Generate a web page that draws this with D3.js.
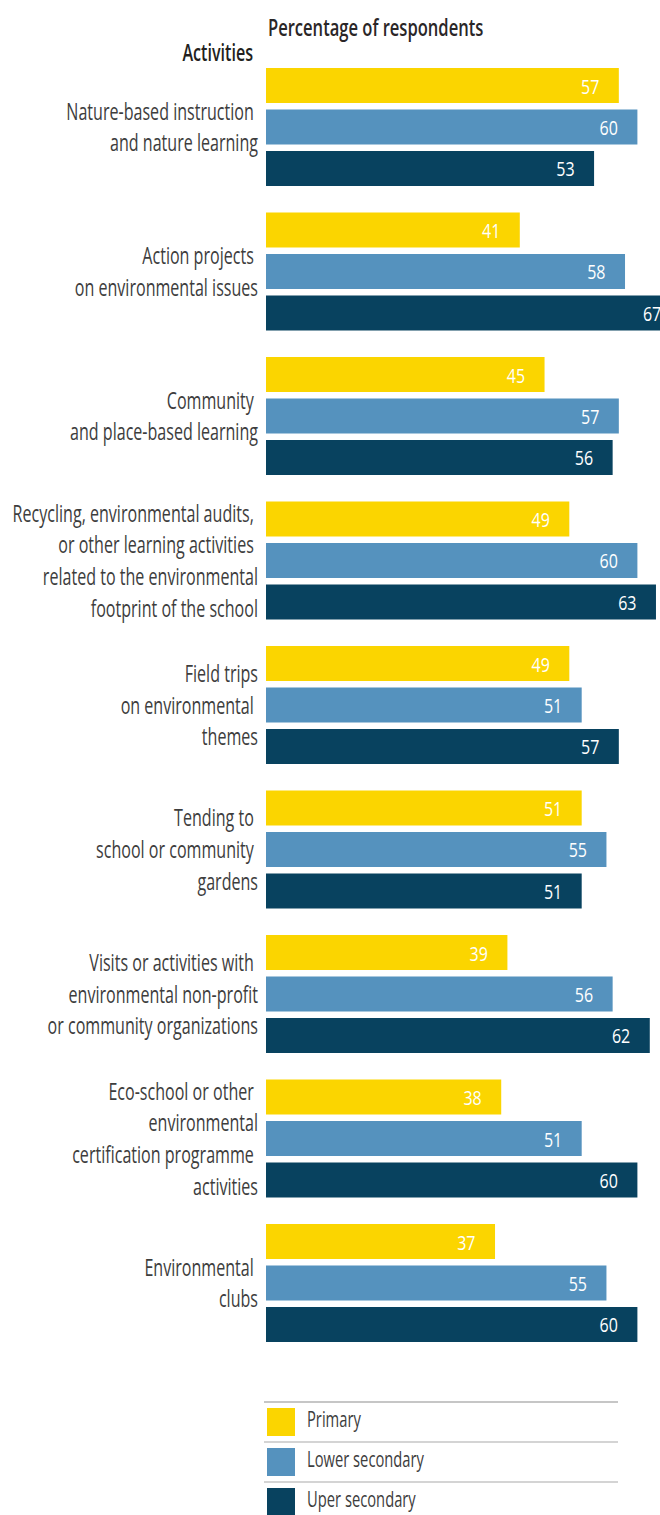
<!DOCTYPE html>
<html>
<head>
<meta charset="utf-8">
<script src="https://cdn.jsdelivr.net/npm/d3@7"></script>
<style>
  html, body { margin: 0; padding: 0; background: #fff; }
  svg text { white-space: pre; font-family: "Open Sans", "Noto Sans", sans-serif; }
</style>
</head>
<body>
<svg id="chart" width="660" height="1515"></svg>
<script>
// Activity labels, one entry per line
const activities = [
  ["Nature-based instruction ", "and nature learning"],
  ["Action projects ", "on environmental issues"],
  ["Community ", "and place-based learning"],
  ["Recycling, environmental audits, ", "or other learning activities ", "related to the environmental", "footprint of the school"],
  ["Field trips", "on environmental ", "themes"],
  ["Tending to ", "school or community ", "gardens"],
  ["Visits or activities with ", "environmental non-profit", "or community organizations"],
  ["Eco-school or other ", "environmental", "certification programme ", "activities"],
  ["Environmental ", "clubs"]
];

// Percentage of respondents by school level
const primary        = [57, 41, 45, 49, 49, 51, 39, 38, 37];
const lowerSecondary = [60, 58, 57, 60, 51, 55, 56, 51, 55];
const upperSecondary = [53, 67, 56, 63, 57, 51, 62, 60, 60];

const seriesNames = ["Primary", "Lower secondary", "Uper secondary"];
const seriesColors = ["#FBD500", "#5592BE", "#08425F"];

const titleText = "Percentage of respondents";
const axisTitle = "Activities";

const svg = d3.select("#chart");
const narrow = 0.67;

const x = d3.scaleLinear().domain([0, 100]).range([266, 885]);
const y = d3.scaleBand()
  .domain(d3.range(activities.length))
  .range([68, 1342])
  .paddingInner(0.1834)
  .paddingOuter(0);
const ySub = d3.scaleBand()
  .domain(d3.range(3))
  .range([0, y.bandwidth()])
  .paddingInner(0.1566)
  .paddingOuter(0);

const table = activities.map((lines, i) => ({
  lines,
  values: [primary[i], lowerSecondary[i], upperSecondary[i]]
}));

// Title and category header
svg.append("text")
  .attr("transform", "translate(268,36) scale(0.72,1)")
  .attr("font-size", 23).attr("font-weight", 600).attr("fill", "#2a2627")
  .text(titleText);
svg.append("text")
  .attr("transform", "translate(253,61) scale(0.7,1)")
  .attr("text-anchor", "end")
  .attr("font-size", 23).attr("font-weight", 600).attr("fill", "#231f20")
  .text(axisTitle);

const groups = svg.selectAll("g.group").data(table).join("g")
  .attr("class", "group")
  .attr("transform", (d, i) => `translate(0,${y(i)})`);

// Bars
groups.selectAll("rect").data(d => d.values).join("rect")
  .attr("x", x(0))
  .attr("y", (v, j) => ySub(j))
  .attr("width", v => x(v) - x(0))
  .attr("height", ySub.bandwidth())
  .attr("fill", (v, j) => seriesColors[j]);

// Value labels inside bar ends
groups.selectAll("text.val").data(d => d.values).join("text")
  .attr("class", "val")
  .attr("transform", (v, j) => `translate(${x(v) - 19.5},${ySub(j) + 25.5}) scale(0.8,1)`)
  .attr("text-anchor", "end")
  .attr("font-size", 20)
  .attr("fill", "#ffffff")
  .text(v => v);

// Category labels, vertically centred on each group
const lineGap = 31.7, capH = 17.2;
groups.each(function (d) {
  const g = d3.select(this);
  const n = d.lines.length;
  const first = y.bandwidth() / 2 - (n - 1) * lineGap / 2 + capH / 2;
  g.selectAll("text.cat").data(d.lines).join("text")
    .attr("class", "cat")
    .attr("transform", (t, k) => `translate(258,${first + k * lineGap}) scale(${narrow},1)`)
    .attr("text-anchor", "end")
    .attr("font-size", 24)
    .attr("fill", "#3d3d3d")
    .text(t => t);
});

// Legend
const legend = svg.append("g").attr("class", "legend");
const rowStep = 40, legendTop = 1402;
legend.selectAll("line").data(seriesNames).join("line")
  .attr("x1", 264).attr("x2", 618)
  .attr("y1", (s, i) => legendTop + i * rowStep)
  .attr("y2", (s, i) => legendTop + i * rowStep)
  .attr("stroke", "#c6c6c6")
  .attr("stroke-width", (s, i) => i === 0 ? 2 : 1.5);
legend.selectAll("rect").data(seriesNames).join("rect")
  .attr("x", 267)
  .attr("y", (s, i) => legendTop + 6 + i * rowStep)
  .attr("width", 28).attr("height", 28)
  .attr("fill", (s, i) => seriesColors[i]);
legend.selectAll("text").data(seriesNames).join("text")
  .attr("transform", (s, i) => `translate(307,${legendTop + 25 + i * rowStep}) scale(0.67,1)`)
  .attr("font-size", 22)
  .attr("fill", "#3d3d3d")
  .text(s => s);
</script>
</body>
</html>
